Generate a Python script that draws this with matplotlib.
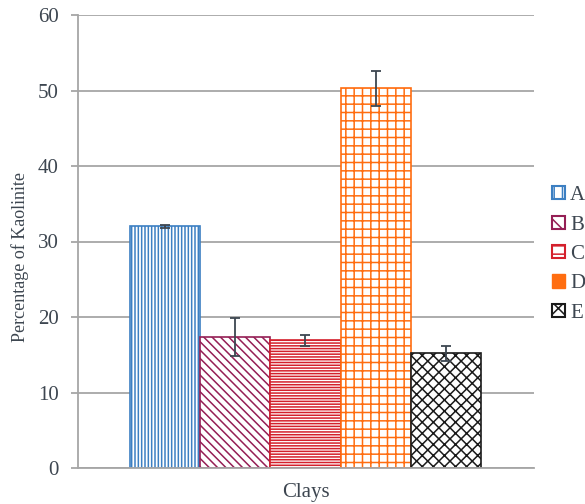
import matplotlib.pyplot as plt
from matplotlib.patches import Patch

clays = ['A', 'B', 'C', 'D', 'E']
kaolinite = [32.0, 17.4, 16.9, 50.3, 15.2]
errors = [0.2, 2.5, 0.7, 2.3, 1.0]
y_ticks = [0, 10, 20, 30, 40, 50, 60]

colors = ['#3c7fc2', '#951f55', '#d4202c', '#ff6d10', '#1a1a1a']
hatches = ['|||||', '\\\\\\\\', '------', '++', 'xxx']

plt.rcParams['font.family'] = ['Liberation Serif', 'DejaVu Serif']
plt.rcParams['hatch.linewidth'] = 1.1

fig = plt.figure(figsize=(5.85, 5.04), dpi=100)
ax = fig.add_axes([78/585, 36/504, (534-78)/585, (468-15)/504])

for i, (val, err) in enumerate(zip(kaolinite, errors)):
  ax.bar(i, val, width=1.0, color='white', edgecolor=colors[i],
         hatch=hatches[i], linewidth=1.2, zorder=2)
  ax.errorbar(i, val, yerr=err, color='#3d4650', capsize=3.5,
              elinewidth=1.3, capthick=1.3, zorder=3)

ax.set_xlim(-1.24, 5.255)
ax.set_ylim(0, 60)
ax.set_yticks(y_ticks)
ax.set_xticks([])
ax.yaxis.grid(True, color='#a6a6a6', linewidth=1.3, zorder=0)
ax.set_axisbelow(True)
for side in ['top', 'right']:
  ax.spines[side].set_visible(False)
for side in ['left', 'bottom']:
  ax.spines[side].set_color('#a6a6a6')
  ax.spines[side].set_linewidth(1.3)
ax.tick_params(axis='y', length=5, width=1.3, color='#a6a6a6',
               labelsize=15, labelcolor='#3d4650', pad=9)

ax.set_ylabel('Percentage of Kaolinite', fontsize=13, color='#3d4650')
ax.yaxis.set_label_coords(-0.108, 0.466)
ax.set_xlabel('Clays', fontsize=15, color='#3d4650', labelpad=11)

handles = []
for i, lab in enumerate(clays):
  if lab == 'D':
    handles.append(Patch(facecolor=colors[i], edgecolor=colors[i], label=lab))
  else:
    handles.append(Patch(facecolor='white', edgecolor=colors[i],
                         hatch=hatches[i][:2], linewidth=1.5, label=lab))
fig.legend(handles=handles, loc='center left', bbox_to_anchor=(0.944, 0.495),
           frameon=False, fontsize=15, handlelength=0.6, handleheight=0.6,
           handletextpad=0.25, labelspacing=0.5, borderpad=0, borderaxespad=0,
           labelcolor='#3d4650')

fig.savefig('out.png', dpi=100)
